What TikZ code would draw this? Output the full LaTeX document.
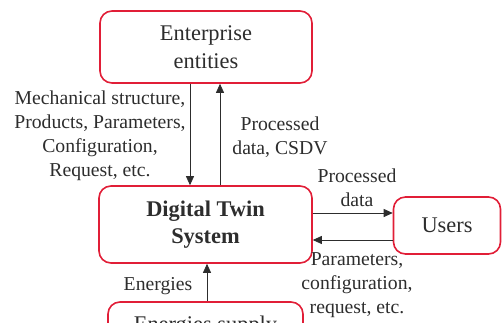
\documentclass[tikz,border=0pt]{standalone}
\usepackage{fontspec}
\setmainfont{Liberation Serif}
\usetikzlibrary{arrows.meta}
\definecolor{boxred}{RGB}{225,30,55}
\definecolor{txt}{RGB}{45,45,45}
\tikzset{
  box/.style={draw=boxred, line width=1.6pt, rounded corners=12pt, text=txt, align=center, inner sep=0pt,
    font=\fontsize{22.4}{28}\selectfont},
  lbl/.style={text=txt, align=center, inner sep=0pt, font=\fontsize{19.7}{24}\selectfont},
  arr/.style={draw=txt, line width=0.8pt, -{Triangle[length=9pt,width=8pt]}}
}
\begin{document}
\begin{tikzpicture}[x=1pt,y=-1pt]
\useasboundingbox (0,0) rectangle (502,322);
\node[box, minimum width=212pt, minimum height=72pt] (ent) at (206,47) {Enterprise\\entities};
\node[box, minimum width=213pt, minimum height=77pt, font=\fontsize{22.4}{27}\selectfont\bfseries] (dt) at (205.5,224.5) {Digital Twin\\System};
\node[box, minimum width=107pt, minimum height=57pt] (usr) at (447,225.5) {Users};
\node[box, minimum width=195pt, minimum height=48pt] (sup) at (205.5,326) {Energies supply};
\coordinate (xd) at (190,0);
\coordinate (xu) at (220,0);
\coordinate (xe) at (207,0);
\coordinate (yr) at (0,213);
\coordinate (yl) at (0,240);
\draw[arr] (ent.south -| xd) -- (dt.north -| xd);
\draw[arr] (dt.north -| xu) -- (ent.south -| xu);
\draw[arr] (dt.east |- yr) -- (usr.west |- yr);
\draw[arr] (usr.west |- yl) -- (dt.east |- yl);
\draw[arr] (sup.north -| xe) -- (dt.south -| xe);
\node[lbl] (l1) at (100,136) {Mechanical structure,\\Products, Parameters,\\Configuration,\\Request, etc.};
\node[lbl] (l2) at (280,137) {Processed\\data, CSDV};
\node[lbl] (l3) at (357,188) {Processed\\data};
\node[lbl] (l4) at (357,285) {Parameters,\\configuration,\\request, etc.};
\node[lbl] (l5) at (158,286) {Energies};
\end{tikzpicture}
\end{document}
